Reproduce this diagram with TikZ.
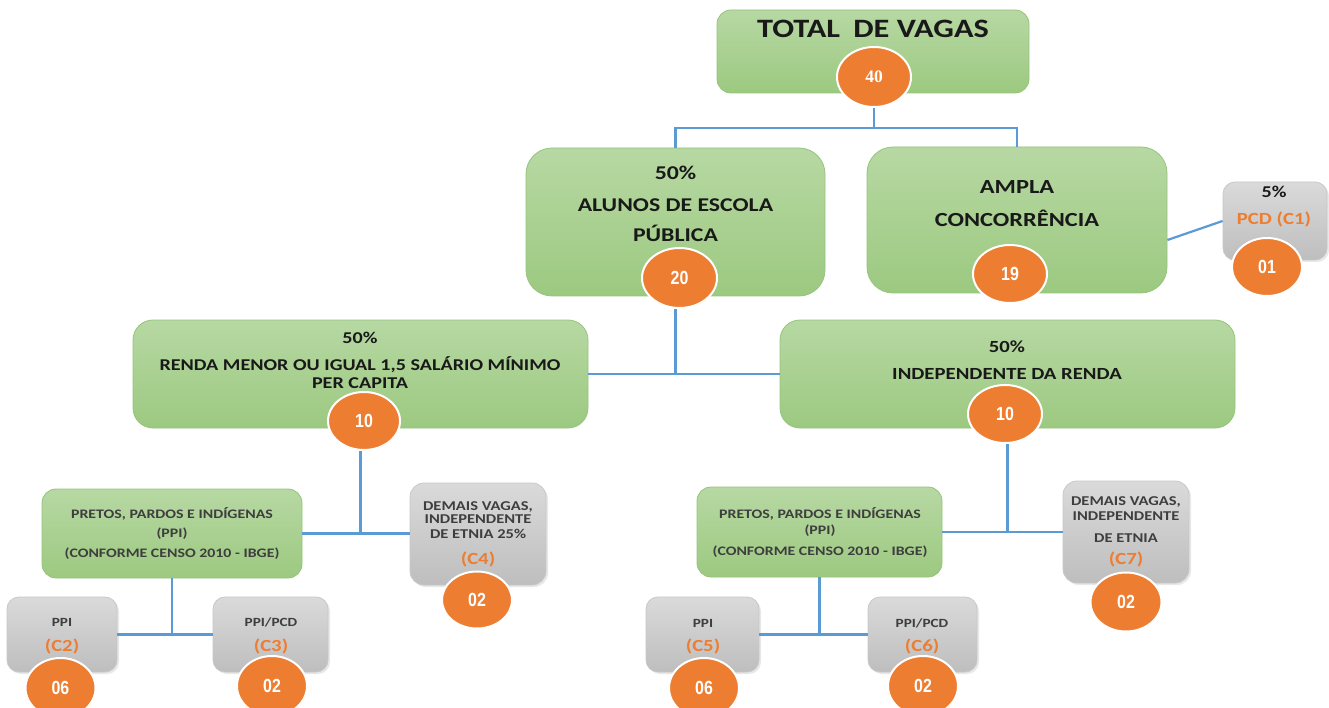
\documentclass[tikz,border=0pt]{standalone}
\usepackage{fontspec}
\setmainfont{Carlito}[FakeStretch=1.22]
\newfontfamily\numfont{Liberation Sans}[FakeStretch=0.84]
\newfontfamily\serfont{Liberation Serif}
\usetikzlibrary{shapes.geometric,shadows}
\definecolor{gtop}{RGB}{183,216,163}
\definecolor{gbot}{RGB}{156,201,128}
\definecolor{gborder}{RGB}{150,196,125}
\definecolor{ytop}{RGB}{218,218,218}
\definecolor{ybot}{RGB}{190,190,190}
\definecolor{yborder}{RGB}{200,200,200}
\definecolor{orng}{RGB}{237,125,49}
\definecolor{lblue}{RGB}{91,155,213}
\definecolor{dtext}{RGB}{25,25,25}
\definecolor{stext}{RGB}{62,62,62}
\newcommand\fsz[1]{\fontsize{#1}{#1}\selectfont}
\tikzset{
  gbox/.style={draw=gborder, line width=0.8pt, top color=gtop, bottom color=gbot, rounded corners=#1, inner sep=0pt},
  ybox/.style={draw=yborder, line width=0.8pt, top color=ytop, bottom color=ybot, rounded corners=#1, inner sep=0pt,
     drop shadow={opacity=0.18, shadow xshift=2pt, shadow yshift=-2pt}},
  badge/.style={ellipse, fill=orng, draw=white, line width=2pt, text=white, inner sep=0pt,
     font=\numfont\bfseries\fsz{19}},
  conn/.style={draw=lblue, line width=2.2pt},
  big/.style={anchor=base, text=dtext, font=\bfseries\fsz{#1}, inner sep=0pt},
  small/.style={anchor=base, text=stext, font=\bfseries\fsz{#1}, inner sep=0pt},
  otext/.style={anchor=base, text=orng, font=\bfseries\fsz{#1}, inner sep=0pt}
}
\begin{document}
\begin{tikzpicture}[x=1pt,y=-1pt]
\useasboundingbox[fill=white] (0,0) rectangle (1329,708);

% ---------- boxes ----------
\node[gbox=14pt, minimum width=312pt, minimum height=83pt] (bTotal) at (873,51.5) {};
\node[gbox=26pt, minimum width=299pt, minimum height=148pt] (bAlunos) at (675.5,222) {};
\node[gbox=26pt, minimum width=300pt, minimum height=146pt] (bAmpla) at (1017,220) {};
\node[ybox=12pt, minimum width=104pt, minimum height=78pt] (bPCD) at (1275,221) {};
\node[gbox=20pt, minimum width=455pt, minimum height=108pt] (bRenda) at (360.5,374) {};
\node[gbox=20pt, minimum width=455pt, minimum height=108pt] (bIndep) at (1007.5,374) {};
\node[gbox=14pt, minimum width=260pt, minimum height=89pt] (bPPIl) at (172,533.5) {};
\node[ybox=14pt, minimum width=136pt, minimum height=102pt] (bDemL) at (478,534) {};
\node[ybox=12pt, minimum width=110pt, minimum height=75pt] (bC2) at (62,634.5) {};
\node[ybox=12pt, minimum width=115pt, minimum height=75pt] (bC3) at (270.5,634.5) {};
\node[gbox=14pt, minimum width=245pt, minimum height=90pt] (bPPIr) at (819.5,532) {};
\node[ybox=14pt, minimum width=126pt, minimum height=102pt] (bDemR) at (1126,532) {};
\node[ybox=12pt, minimum width=113pt, minimum height=75pt] (bC5) at (702.5,634.5) {};
\node[ybox=12pt, minimum width=109pt, minimum height=75pt] (bC6) at (922.5,634.5) {};

% ---------- texts ----------
\node[big=26.5] (tTotal) at (873,38) {TOTAL\hspace{0.5em}DE VAGAS};
\node[big=19.5] (tAl1) at (675.5,180) {50\%};
\node[big=19.5] (tAl2) at (675.5,212) {ALUNOS DE ESCOLA};
\node[big=19.5] (tAl3) at (675.5,242) {PÚBLICA};
\node[big=20] (tAm1) at (1017,194) {AMPLA};
\node[big=20] (tAm2) at (1017,227) {CONCORRÊNCIA};
\node[big=16.5] (tPc1) at (1274,198) {5\%};
\node[otext=17] (tPc2) at (1274,225) {PCD (C1)};
\node[big=16.5] (tRe1) at (360,343) {50\%};
\node[big=16.5] (tRe2) at (360,370) {RENDA MENOR OU IGUAL 1,5 SALÁRIO MÍNIMO};
\node[big=16.5] (tRe3) at (360,388) {PER CAPITA};
\node[big=17] (tIn1) at (1007,352) {50\%};
\node[big=17] (tIn2) at (1007,379) {INDEPENDENTE DA RENDA};
\node[small=13] (tPl1) at (172,518) {PRETOS, PARDOS E INDÍGENAS};
\node[small=13] (tPl2) at (172,537) {(PPI)};
\node[small=13] (tPl3) at (172,557) {(CONFORME CENSO 2010 - IBGE)};
\node[small=13] (tPr1) at (820,518) {PRETOS, PARDOS E INDÍGENAS};
\node[small=13] (tPr2) at (820,534) {(PPI)};
\node[small=13] (tPr3) at (820,555) {(CONFORME CENSO 2010 - IBGE)};
\node[small=13.5] (tDl1) at (478,510) {DEMAIS VAGAS,};
\node[small=13.5] (tDl2) at (478,523) {INDEPENDENTE};
\node[small=13.5] (tDl3) at (478,538) {DE ETNIA 25\%};
\node[otext=17] (tDl4) at (478,564) {(C4)};
\node[small=13.5] (tDr1) at (1126,505) {DEMAIS VAGAS,};
\node[small=13.5] (tDr2) at (1126,520) {INDEPENDENTE};
\node[small=13.5] (tDr3) at (1126,542) {DE ETNIA};
\node[otext=17] (tDr4) at (1126,564) {(C7)};
\node[small=12.5] (tC2a) at (62,626) {PPI};
\node[otext=17] (tC2b) at (62,651) {(C2)};
\node[small=12.5] (tC3a) at (271,626) {PPI/PCD};
\node[otext=17] (tC3b) at (271,651) {(C3)};
\node[small=12.5] (tC5a) at (703,627) {PPI};
\node[otext=17] (tC5b) at (703,651) {(C5)};
\node[small=12.5] (tC6a) at (922,627) {PPI/PCD};
\node[otext=17] (tC6b) at (922,651) {(C6)};

% ---------- badges ----------
\node[badge, minimum width=74pt, minimum height=60pt, font=\serfont\bfseries\fsz{17.5}] (c40) at (874,77) {40};
\node[badge, minimum width=75pt, minimum height=60pt] (c20) at (679.5,278) {20};
\node[badge, minimum width=74pt, minimum height=58pt] (c19) at (1010,274) {19};
\node[badge, minimum width=70pt, minimum height=58pt] (c01) at (1267,267) {01};
\node[badge, minimum width=72pt, minimum height=58pt] (c10l) at (364,421) {10};
\node[badge, minimum width=74pt, minimum height=58pt] (c10r) at (1005,414) {10};
\node[badge, minimum width=70pt, minimum height=57pt] (c02d) at (477,600) {02};
\node[badge, minimum width=70pt, minimum height=60pt] (c06l) at (60.5,688) {06};
\node[badge, minimum width=70pt, minimum height=60pt] (c02l) at (272,686) {02};
\node[badge, minimum width=70pt, minimum height=60pt] (c06r) at (704,688) {06};
\node[badge, minimum width=70pt, minimum height=60pt] (c02r) at (923,686) {02};
\node[badge, minimum width=71pt, minimum height=59pt] (c02e) at (1126,602) {02};

% ---------- connectors ----------
\coordinate (j1) at (874,128);
\draw[conn] (c40.south) -- (j1);
\draw[conn] (bAlunos.north) |- (j1) -| (bAmpla.north);
\draw[conn] (bAlunos.south |- c20.south) -- (bAlunos.south |- bRenda.east);
\draw[conn] (bRenda.east) -- (bRenda.east -| bIndep.west);
\draw[conn] ([yshift=-20pt]bAmpla.east) -- (bPCD.west);
\draw[conn] (bRenda.south |- c10l.south) -- (bRenda.south |- bPPIl.east);
\draw[conn] (bPPIl.east) -- (bPPIl.east -| bDemL.west);
\draw[conn] (bPPIl.south) -- (bPPIl.south |- bC2.east);
\draw[conn] (bC2.east) -- (bC2.east -| bC3.west);
\draw[conn] (bIndep.south |- c10r.south) -- (bIndep.south |- bPPIr.east);
\draw[conn] (bPPIr.east) -- (bPPIr.east -| bDemR.west);
\draw[conn] (bPPIr.south) -- (bPPIr.south |- bC5.east);
\draw[conn] (bC5.east) -- (bC5.east -| bC6.west);
\end{tikzpicture}
\end{document}
